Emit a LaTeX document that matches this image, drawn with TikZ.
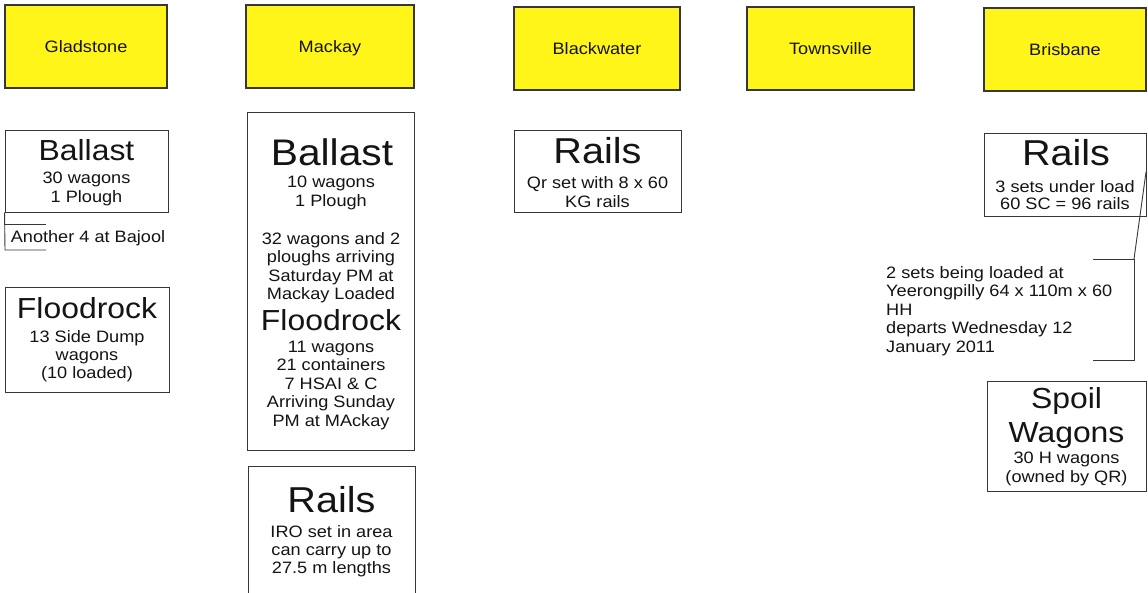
\documentclass[tikz,border=0pt]{standalone}
\usepackage{fontspec}
\setmainfont{Liberation Sans}[FakeStretch=1.1]
\definecolor{yel}{RGB}{255,245,25}
\definecolor{edge}{RGB}{55,55,55}
\definecolor{ink}{RGB}{20,20,20}
\begin{document}
\begin{tikzpicture}[x=1pt,y=-1pt,
  place/.style={draw=edge, line width=1.2pt, fill=yel, inner sep=0pt,
    text=ink, font=\fontsize{16.5}{18.5}\selectfont, text height=12pt, text depth=0pt},
  infobox/.style={draw=edge, line width=0.9pt, fill=white, inner sep=0pt},
  small/.style={font=\fontsize{16.5}{18.5}\selectfont, text=ink, anchor=base, inner sep=0pt},
  notetext/.style={small, anchor=base west},
  ttl/.style={font=\fontsize{29}{30}\selectfont, text=ink, anchor=base, inner sep=0pt},
  bigttl/.style={font=\fontsize{37}{38}\selectfont, text=ink, anchor=base, inner sep=0pt},
  railttl/.style={font=\fontsize{36}{37}\selectfont, text=ink, anchor=base, inner sep=0pt},
  callout/.style={draw=edge, line width=0.9pt}]
\useasboundingbox[fill=white] (0,0) rectangle (1148,592);

% --- place headers ---
\node[place, minimum width=162pt, minimum height=83pt] (gl) at (86,46.5) {Gladstone};
\node[place, minimum width=168pt, minimum height=83pt] (mk) at (330,46.5) {Mackay};
\node[place, minimum width=166pt, minimum height=83pt] (bw) at (597,48.5) {Blackwater};
\node[place, minimum width=167pt, minimum height=83pt] (tv) at (830.5,48.5) {Townsville};
\node[place, minimum width=162pt, minimum height=83pt] (bb) at (1065,49.5) {Brisbane};

% --- Gladstone ---
\node[infobox, minimum width=163pt, minimum height=82pt] (gb) at (86.5,171) {};
\node[ttl] (gbt) at (86.5,160) {Ballast};
\node[small] (gb1) at (86.5,183) {30 wagons};
\node[small] (gb2) at (86.5,202) {1 Plough};

\coordinate (bjt) at (5,224);
\coordinate (bjb) at (5,250);
\coordinate (bjtr) at (46,224);
\coordinate (bjbr) at (46,250);
\draw[callout] (gb.south west) -- (bjb) -- (bjbr);
\draw[callout] (bjt) -- (bjtr);
\node[small] (bj) at (88,242) {Another 4 at Bajool};

\node[infobox, minimum width=164pt, minimum height=105pt] (gf) at (87,339.5) {};
\node[ttl] (gft) at (87,318) {Floodrock};
\node[small] (gf1) at (87,342) {13 Side Dump};
\node[small] (gf2) at (87,360) {wagons};
\node[small] (gf3) at (87,378) {(10 loaded)};

% --- Mackay ---
\node[infobox, minimum width=167pt, minimum height=338pt] (mb) at (330.5,281) {};
\node[bigttl] (mbt) at (332,165) {Ballast};
\node[small] (mb1) at (331,187) {10 wagons};
\node[small] (mb2) at (331,206) {1 Plough};
\node[small] (mb3) at (331,244) {32 wagons and 2};
\node[small] (mb4) at (331,262.5) {ploughs arriving};
\node[small] (mb5) at (331,281) {Saturday PM at};
\node[small] (mb6) at (331,299.5) {Mackay Loaded};
\node[ttl] (mft) at (331,330) {Floodrock};
\node[small] (mf1) at (331,352) {11 wagons};
\node[small] (mf2) at (331,370.5) {21 containers};
\node[small] (mf3) at (331,389) {7 HSAI \& C};
\node[small] (mf4) at (331,407.5) {Arriving Sunday};
\node[small] (mf5) at (331,426) {PM at MAckay};

\node[infobox, minimum width=167pt, minimum height=154pt] (mr) at (331.5,543) {};
\node[railttl] (mrt) at (331.5,512) {Rails};
\node[small] (mr1) at (331.5,537) {IRO set in area};
\node[small] (mr2) at (331.5,555) {can carry up to};
\node[small] (mr3) at (331.5,573) {27.5 m lengths};

% --- Blackwater ---
\node[infobox, minimum width=167pt, minimum height=82pt] (bwr) at (597.5,171) {};
\node[railttl] (bwt) at (597.5,163) {Rails};
\node[small] (bw1) at (597.5,188) {Qr set with 8 x 60};
\node[small] (bw2) at (597.5,207) {KG rails};

% --- Brisbane ---
\node[infobox, minimum width=162pt, minimum height=83pt] (br) at (1065,174.5) {};
\node[railttl] (brt) at (1066,165) {Rails};
\node[small] (br1) at (1065,192) {3 sets under load};
\node[small] (br2) at (1065,209) {60 SC = 96 rails};

\coordinate (cs) at (1146,172);
\coordinate (nt) at (1134,259);
\coordinate (nb) at (1134,360);
\coordinate (ntl) at (1093,259);
\coordinate (nbl) at (1093,360);
\draw[callout] (ntl) -- (nt) -- (nb) -- (nbl);
\draw[callout] (cs) -- (nt);
\node[notetext] (n1) at (886,278) {2 sets being loaded at};
\node[notetext] (n2) at (886,296.5) {Yeerongpilly 64 x 110m x 60};
\node[notetext] (n3) at (886,315) {HH};
\node[notetext] (n4) at (886,333.5) {departs Wednesday 12};
\node[notetext] (n5) at (886,352) {January 2011};

\node[infobox, minimum width=159pt, minimum height=110pt] (sp) at (1066.5,436) {};
\node[ttl] (spt) at (1066.5,408) {Spoil};
\node[ttl] (spw) at (1066.5,442) {Wagons};
\node[small] (sp1) at (1066.5,463) {30 H wagons};
\node[small] (sp2) at (1066.5,482) {(owned by QR)};
\end{tikzpicture}
\end{document}
